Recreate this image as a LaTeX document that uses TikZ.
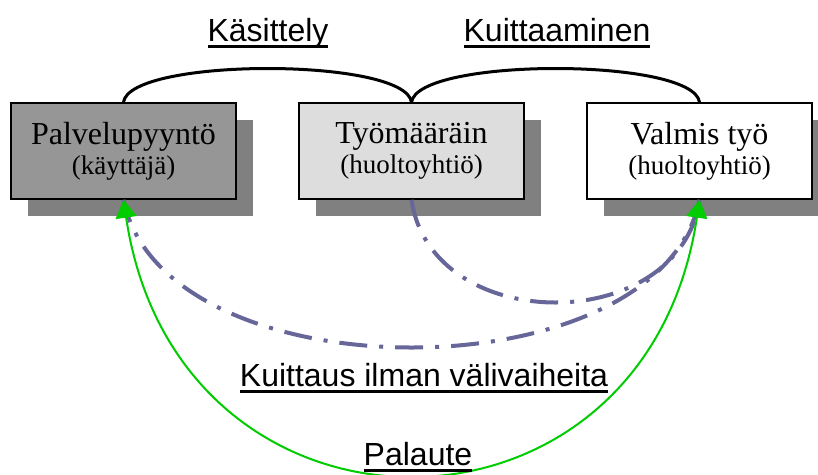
\documentclass[tikz,border=0pt]{standalone}
\usepackage{fontspec}
\setmainfont{Liberation Serif}
\setsansfont{Liberation Sans}
\usetikzlibrary{arrows.meta,shadows}
\newcommand{\ulined}[1]{\setbox0=\hbox{#1}\rlap{\copy0}\rule[-7pt]{\wd0}{3pt}}

\begin{document}
\begin{tikzpicture}[x=1pt,y=-1pt,
  mybox/.style={draw,line width=1.5pt,minimum width=225pt,minimum height=96pt,inner sep=0pt,
    align=center,font=\fontsize{32}{30}\selectfont,
    drop shadow={shadow xshift=17pt,shadow yshift=-17pt,fill=shadowgray,opacity=1}},
  mylabel/.style={anchor=base,inner sep=0pt,font=\sffamily\fontsize{32}{38}\selectfont},
  dashline/.style={dashblue,line width=4pt,dash pattern=on 28pt off 12pt on 4pt off 12pt},
  greenline/.style={arrowgreen,line width=2pt,
    {Triangle[width=21pt,length=18pt]}-{Triangle[width=21pt,length=18pt]}}]
\definecolor{boxdark}{HTML}{969696}
\definecolor{boxlight}{HTML}{DDDDDD}
\definecolor{shadowgray}{HTML}{808080}
\definecolor{dashblue}{HTML}{666699}
\definecolor{arrowgreen}{HTML}{00CC00}
\useasboundingbox (0,0) rectangle (818,474);
  \foreach \nm/\crlr/\xx/\main/\sub in {palvelu/boxdark/123.5/Palvelupyyntö/käyttäjä,
    tyo/boxlight/411.5/Työmääräin/huoltoyhtiö,valmis/white/699.5/Valmis työ/huoltoyhtiö}
  {  \node [mybox,fill=\crlr] (\nm) at (\xx,151) {\main\\{\fontsize{27}{30}\selectfont(\sub)}};}
% kaaret ylhaalla
\draw [line width=3pt] (palvelu.north) .. controls +(6,-45) and +(-6,-45) .. (tyo.north);
\draw [line width=3pt] (tyo.north) .. controls +(6,-45) and +(-6,-45) .. (valmis.north);
\node [mylabel] (kasittely) at (268,41) {\ulined{Käsittely}};
\node [mylabel] (kuittaaminen) at (557,41) {\ulined{Kuittaaminen}};
% paluut
\draw [dashline] (tyo.south) .. controls +(20,137) and +(-20,137) .. (valmis.south);
\draw [dashline] (valmis.south) .. controls +(-40,197) and +(40,197) .. (palvelu.south);
\draw [greenline] (palvelu.south) .. controls +(54,364) and +(-54,364) .. (valmis.south);
\node [mylabel] (kuittaus) at (424,386) {\ulined{Kuittaus ilman välivaiheita}};
\node [mylabel] (palaute) at (418,465) {\ulined{Palaute}};
\end{tikzpicture}
\end{document}
